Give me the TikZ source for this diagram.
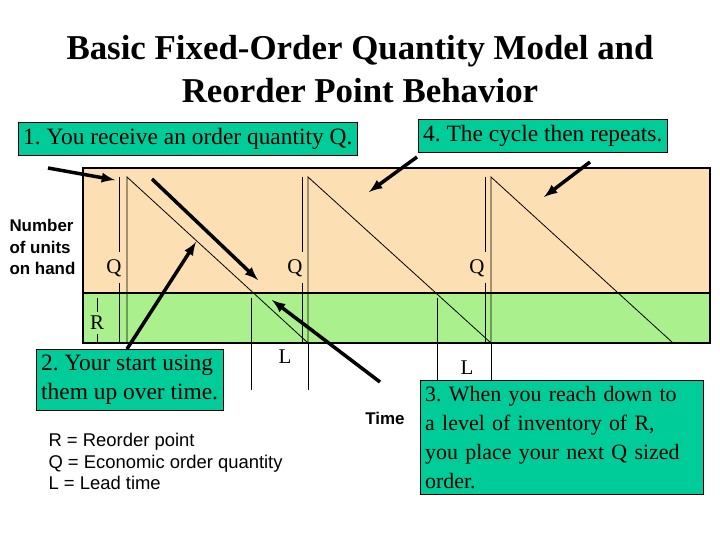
\documentclass[tikz,border=0pt]{standalone}
\usepackage{fontspec}
\setmainfont{Liberation Serif}
\newfontfamily\labelfont{Liberation Sans}
\frenchspacing
\definecolor{boxgreen}{RGB}{0,204,153}
\definecolor{upperfill}{RGB}{252,224,180}
\definecolor{lowerfill}{RGB}{170,240,140}
\tikzset{
  note/.style={draw=black, fill=boxgreen, inner xsep=5bp, inner ysep=6bp, align=left, font=\fontsize{23.5}{29}\selectfont},
  pointer/.style={line width=3.5bp, -latex},
  level/.style={line width=0.8bp},
  axislabel/.style={font=\labelfont\bfseries\fontsize{17}{21.5}\selectfont, align=left},
}
\begin{document}
\begin{tikzpicture}[x=1bp, y=-1bp]
    \useasboundingbox (0,0) rectangle (720,540);
    % title
    \node (title) at (360,69) [font=\bfseries\fontsize{35}{44}\selectfont, align=center]
        {Basic Fixed-Order Quantity Model and\\Reorder Point Behavior};

    % bands
    \fill[upperfill] (83,168) rectangle (710,293);
    \fill[lowerfill] (83,293) rectangle (710,343);
    \draw[line width=1.5bp] (83,168) rectangle (710,343);
    \draw[line width=2bp] (83,293) -- (710,293);

    % sawtooth
    \draw[level] (127,343) -- (127,177) -- (308,343) -- (308,177) -- (491,343) -- (491,177) -- (673,343);
    \draw[level] (119,177) -- (119,252) (119,283) -- (119,343);
    \draw[level] (302,177) -- (302,252) (302,283) -- (302,343);
    \draw[level] (485,177) -- (485,252) (485,283) -- (485,343);
    \node (q1) at (114,268) {\fontsize{21}{24}\selectfont Q};
    \node (q2) at (295,268) {\fontsize{21}{24}\selectfont Q};
    \node (q3) at (477,268) {\fontsize{21}{24}\selectfont Q};

    % reorder point and lead times
    \draw[level] (97,298) -- (97,312) (97,334) -- (97,343);
    \node (r) at (97,323) {\fontsize{21}{24}\selectfont R};
    \draw[level] (251,298) -- (251,390) (308,343) -- (308,390);
    \draw[level] (437,298) -- (437,390) (491,343) -- (491,390);
    \node (l1) at (285,357) {\fontsize{21}{24}\selectfont L};
    \node (l2) at (467,368) {\fontsize{21}{24}\selectfont L};

    % axis labels
    \node[axislabel, anchor=west] (units) at (6,247) {Number\\of units\\on hand};
    \node[axislabel, anchor=center] (time) at (385,418) {Time};

    % notes
    \node[note, anchor=north west] (n1) at (18,122) {1. You receive an order quantity Q.};
    \node[note, anchor=north west] (n4) at (418,119) {4. The cycle then repeats.};
    \node[note, anchor=north west] (n2) at (36,349) {2. Your start using\\them up over time.};
    \node[note, anchor=north west, text width=273bp, font=\fontsize{22}{29}\selectfont] (n3) at (420,380)
        {3. When you reach down to\\a level of inventory of R,\\you place your next Q sized\\order.};
    \node[font=\labelfont\fontsize{18.5}{21.5}\selectfont, align=left, anchor=north west] (legend) at (45,430)
        {R = Reorder point\\Q = Economic order quantity\\L = Lead time};

    % pointers
    \coordinate (a1) at (115,180);
    \coordinate (a2) at (196,242);
    \coordinate (a3) at (258,280);
    \coordinate (a4) at (369,192);
    \coordinate (a5) at (544,197);
    \coordinate (a6) at (272,300);
    \draw[pointer] (48,168) -- (a1);
    \draw[pointer] (127,349) -- (a2);
    \draw[pointer] (152,179) -- (a3);
    \draw[pointer] (417,157) -- (a4);
    \draw[pointer] (590,162) -- (a5);
    \draw[pointer] (380,382) -- (a6);
\end{tikzpicture}
\end{document}
